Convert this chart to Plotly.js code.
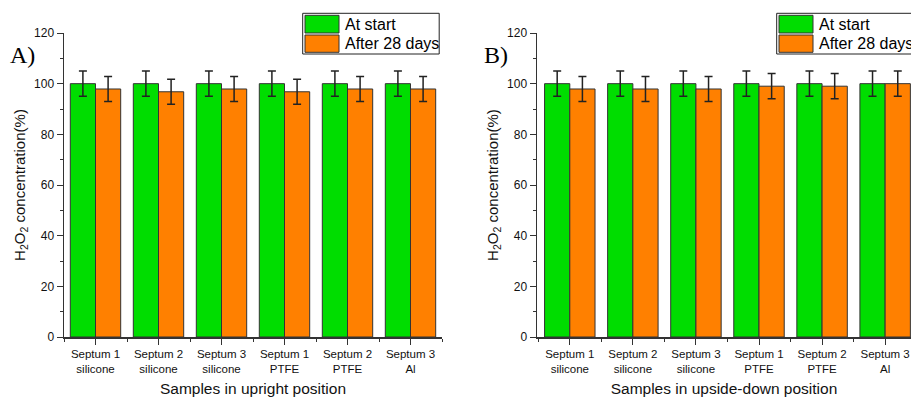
<!DOCTYPE html>
<html>
<head>
<meta charset="utf-8">
<script src="https://cdn.plot.ly/plotly-3.0.1.min.js"></script>
<style>html,body{margin:0;padding:0;background:#fff;}#chart{width:911px;height:397px;}</style>
</head>
<body>
<div id="chart"></div>
<script>
// ---- data ----
const categories = ["Septum 1<br>silicone", "Septum 2<br>silicone", "Septum 3<br>silicone", "Septum 1<br>PTFE", "Septum 2<br>PTFE", "Septum 3<br>Al"];
const seriesNames = ["At start", "After 28 days"];
const uprightStart = [100, 100, 100, 100, 100, 100];
const uprightStartErr = [5, 5, 5, 5, 5, 5];
const uprightAfter = [97.9, 96.8, 97.9, 96.8, 97.9, 97.9];
const uprightAfterErr = [4.9, 4.9, 4.9, 4.9, 4.9, 4.9];
const upsideStart = [100, 100, 100, 100, 100, 100];
const upsideStartErr = [5, 5, 5, 5, 5, 5];
const upsideAfter = [97.9, 97.9, 97.9, 99.0, 99.0, 100];
const upsideAfterErr = [4.9, 4.9, 4.9, 5, 5, 5];
const yTickVals = [0, 20, 40, 60, 80, 100, 120];
const panelLabels = ["A)", "B)"];
const xTitles = ["Samples in upright position", "Samples in upside-down position"];
const yTitle = "H<sub>2</sub>O<sub>2</sub> concentration(%)";

// ---- style ----
const W = 911, H = 397;
const colors = ["#00dd00", "#ff8000"];
const FONT = "Liberation Sans, Arial, sans-serif";
const xPos = categories.map((c, i) => i);
const px = v => v / W;
const py = v => (H - v) / H;

function barTrace(y, err, idx, xa, ya) {
  return {
    type: "bar", x: xPos, y: y, name: seriesNames[idx],
    xaxis: xa, yaxis: ya, showlegend: false,
    marker: {color: colors[idx], line: {color: "#333", width: 1}},
    error_y: {type: "data", array: err, visible: true, color: "#222", thickness: 1.5, width: 4}
  };
}

const traces = [
  barTrace(uprightStart, uprightStartErr, 0, "x", "y"),
  barTrace(uprightAfter, uprightAfterErr, 1, "x", "y"),
  barTrace(upsideStart, upsideStartErr, 0, "x2", "y2"),
  barTrace(upsideAfter, upsideAfterErr, 1, "x2", "y2")
];

function xAxis(domain, range, anchor, title) {
  return {
    domain: domain, range: range, anchor: anchor,
    tickmode: "array", tickvals: xPos, ticktext: categories,
    ticks: "outside", ticklen: 6, tickwidth: 1, tickcolor: "#333",
    minor: {tickmode: "linear", tick0: 0.5, dtick: 1, ticks: "outside", ticklen: 3, tickwidth: 1, tickcolor: "#333"},
    showline: true, linecolor: "#333", linewidth: 1.5,
    showgrid: false, zeroline: false, fixedrange: true,
    tickfont: {family: FONT, size: 11.5, color: "#111"},
    title: {text: title, font: {family: FONT, size: 15.5, color: "#111"}, standoff: 14},
    automargin: false
  };
}
function yAxis(domain, anchor) {
  return {
    domain: domain, range: [0, 120], anchor: anchor,
    tickmode: "array", tickvals: yTickVals,
    ticks: "outside", ticklen: 6, tickwidth: 1, tickcolor: "#333",
    minor: {tickmode: "linear", tick0: 10, dtick: 20, ticks: "outside", ticklen: 3, tickwidth: 1, tickcolor: "#333"},
    showline: true, linecolor: "#333", linewidth: 1.5,
    showgrid: false, zeroline: false, fixedrange: true,
    tickfont: {family: FONT, size: 12, color: "#111"},
    title: {text: yTitle, font: {family: FONT, size: 15, color: "#111"}, standoff: 5},
    automargin: false
  };
}

const yDom = [py(337), py(33)];
const shapes = [], annotations = [];
function legendBlock(x0) {
  const x1 = x0 + 136.5;
  shapes.push({type: "rect", xref: "paper", yref: "paper", x0: px(x0), x1: px(x1), y0: py(54), y1: py(13.3),
    line: {color: "#222", width: 1}, fillcolor: "#fff", layer: "above"});
  const rows = [[15.3, 33], [35, 52.3]];
  rows.forEach((r, i) => {
    shapes.push({type: "rect", xref: "paper", yref: "paper", x0: px(x0 + 2.3), x1: px(x0 + 36.3), y0: py(r[1]), y1: py(r[0]),
      line: {color: "#333", width: 1}, fillcolor: colors[i], layer: "above"});
    annotations.push({xref: "paper", yref: "paper", x: px(x0 + 40), y: py((r[0] + r[1]) / 2), xanchor: "left", yanchor: "middle",
      text: seriesNames[i], showarrow: false, font: {family: FONT, size: 16, color: "#000"}});
  });
}
legendBlock(302.7);
legendBlock(776.7);
annotations.push({xref: "paper", yref: "paper", x: px(8), y: py(55), xanchor: "left", yanchor: "middle",
  text: panelLabels[0], showarrow: false, font: {family: "Liberation Serif, Times New Roman, serif", size: 24, color: "#000"}});
annotations.push({xref: "paper", yref: "paper", x: px(482), y: py(55), xanchor: "left", yanchor: "middle",
  text: panelLabels[1], showarrow: false, font: {family: "Liberation Serif, Times New Roman, serif", size: 24, color: "#000"}});

const layout = {
  width: W, height: H,
  margin: {l: 0, r: 0, t: 0, b: 0, autoexpand: false},
  paper_bgcolor: "#fff", plot_bgcolor: "#fff",
  barmode: "group", bargap: 0.2, bargroupgap: 0,
  showlegend: false,
  xaxis: xAxis([px(64), px(442)], [-0.5, 5.5], "y", xTitles[0]),
  yaxis: yAxis(yDom, "x"),
  xaxis2: xAxis([px(537), 1], [-0.52, 5.41], "y2", xTitles[1]),
  yaxis2: yAxis(yDom, "x2"),
  shapes: shapes, annotations: annotations,
  font: {family: FONT}
};

Plotly.newPlot("chart", traces, layout, {displayModeBar: false, staticPlot: true});
</script>
</body>
</html>
